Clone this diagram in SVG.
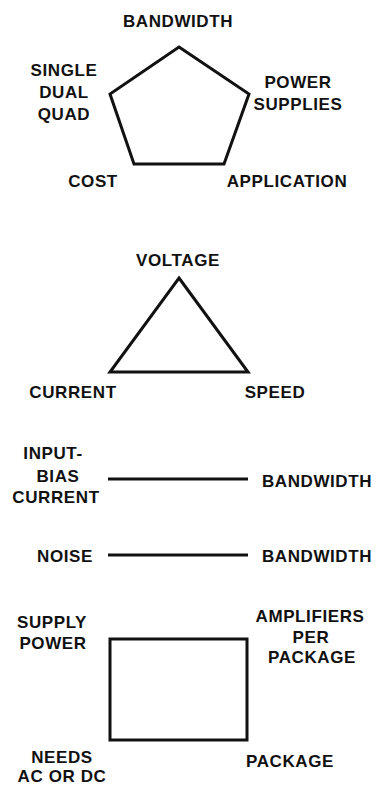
<svg xmlns="http://www.w3.org/2000/svg" width="380" height="787" viewBox="0 0 380 787">
<style>
text{font-family:"Liberation Sans",Arial,sans-serif;font-size:17px;letter-spacing:0.6px;font-weight:bold;fill:#111;text-anchor:middle}
.s{fill:none;stroke:#111;stroke-width:3;stroke-linejoin:miter}
</style>
<rect width="380" height="787" fill="#fff"/>
<g id="pentagon">
<polygon class="s" points="179,47 249,94 224,164 134,164 110,94"/>
</g>
<g id="n-bandwidth"><text x="178" y="27">BANDWIDTH</text></g>
<g id="n-sdq"><text x="64" y="76">SINGLE</text><text x="64" y="98">DUAL</text><text x="64" y="120">QUAD</text></g>
<g id="n-power"><text x="298" y="88">POWER</text><text x="298" y="110">SUPPLIES</text></g>
<g id="n-cost"><text x="93" y="187">COST</text></g>
<g id="n-app"><text x="287" y="187">APPLICATION</text></g>
<g id="triangle">
<polygon class="s" points="179,278 248,372 110,372"/>
</g>
<g id="n-voltage"><text x="178" y="266">VOLTAGE</text></g>
<g id="n-current"><text x="73" y="398">CURRENT</text></g>
<g id="n-speed"><text x="275" y="398">SPEED</text></g>
<g id="connectors">
<line class="s" x1="108" y1="479" x2="248" y2="479"/>
<line class="s" x1="108" y1="555" x2="248" y2="555"/>
</g>
<g id="n-ibc"><text x="53" y="459">INPUT-</text><text x="58" y="482">BIAS</text><text x="56" y="503">CURRENT</text></g>
<g id="n-bw1"><text x="317" y="487">BANDWIDTH</text></g>
<g id="n-noise"><text x="65" y="562">NOISE</text></g>
<g id="n-bw2"><text x="317" y="562">BANDWIDTH</text></g>
<g id="rect">
<rect class="s" x="110" y="639" width="137" height="101"/>
</g>
<g id="n-supply"><text x="52" y="628">SUPPLY</text><text x="53" y="649">POWER</text></g>
<g id="n-amp"><text x="310" y="622">AMPLIFIERS</text><text x="311" y="643">PER</text><text x="312" y="663">PACKAGE</text></g>
<g id="n-needs"><text x="62" y="763">NEEDS</text><text x="62" y="782">AC OR DC</text></g>
<g id="n-package"><text x="290" y="767">PACKAGE</text></g>
</svg>
